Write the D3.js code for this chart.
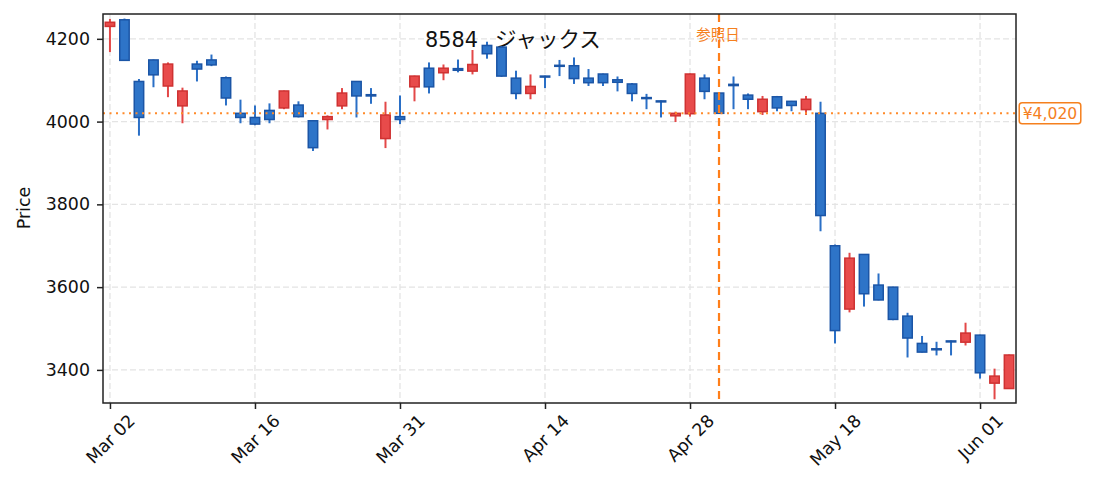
<!DOCTYPE html>
<html>
<head>
<meta charset="utf-8">
<script src="https://cdn.jsdelivr.net/npm/d3@7"></script>
<style>
  body { margin: 0; background: #fff; }
  text { font-family: "DejaVu Sans", sans-serif; }
  .jp { font-family: "Noto Sans CJK JP", sans-serif; }
  .grid line { stroke: #e4e4e4; stroke-dasharray: 6 3; stroke-width: 1.3; }
  .axis path, .axis line { stroke: #222; stroke-width: 1.5; }
  .axis text { font-size: 17.4px; fill: #111; }
</style>
</head>
<body>
<div id="chart"></div>
<script>
const dates = [
  '2020-03-02', '2020-03-03', '2020-03-04', '2020-03-05', '2020-03-06', '2020-03-09', '2020-03-10',
  '2020-03-11', '2020-03-12', '2020-03-13', '2020-03-16', '2020-03-17', '2020-03-18', '2020-03-19',
  '2020-03-23', '2020-03-24', '2020-03-25', '2020-03-26', '2020-03-27', '2020-03-30', '2020-03-31',
  '2020-04-01', '2020-04-02', '2020-04-03', '2020-04-06', '2020-04-07', '2020-04-08', '2020-04-09',
  '2020-04-10', '2020-04-13', '2020-04-14', '2020-04-15', '2020-04-16', '2020-04-17', '2020-04-20',
  '2020-04-21', '2020-04-22', '2020-04-23', '2020-04-24', '2020-04-27', '2020-04-28', '2020-04-30',
  '2020-05-01', '2020-05-07', '2020-05-08', '2020-05-11', '2020-05-12', '2020-05-13', '2020-05-14',
  '2020-05-15', '2020-05-18', '2020-05-19', '2020-05-20', '2020-05-21', '2020-05-22', '2020-05-25',
  '2020-05-26', '2020-05-27', '2020-05-28', '2020-05-29', '2020-06-01', '2020-06-02', '2020-06-03',
]
const open = [
  4230, 4246, 4097, 4149, 4086, 4038, 4139, 4149, 4106, 4020, 4010, 4027, 4033, 4040, 4002, 4005,
  4038, 4097, 4065, 3959, 4012, 4084, 4129, 4118, 4128, 4122, 4184, 4180, 4105, 4068, 4110, 4136,
  4135, 4105, 4115, 4101, 4091, 4058, 4050, 4014, 4019, 4105, 4069, 4090, 4064, 4024, 4060, 4049,
  4029, 4020, 3700, 3547, 3679, 3605, 3600, 3530, 3464, 3451, 3470, 3467, 3484, 3368, 3355,
]
const high = [
  4248, 4249, 4103, 4150, 4143, 4082, 4147, 4162, 4109, 4053, 4039, 4044, 4075, 4049, 4003, 4015,
  4081, 4098, 4081, 4048, 4063, 4111, 4143, 4138, 4150, 4173, 4193, 4182, 4123, 4114, 4111, 4149,
  4155, 4127, 4116, 4109, 4093, 4067, 4051, 4024, 4116, 4114, 4070, 4109, 4068, 4062, 4062, 4050,
  4062, 4048, 3703, 3683, 3680, 3633, 3601, 3538, 3482, 3468, 3471, 3514, 3485, 3403, 3437,
]
const low = [
  4168, 4147, 3966, 4083, 4059, 3996, 4097, 4134, 4039, 3996, 3991, 3996, 4030, 4010, 3929, 3981,
  4030, 4010, 4043, 3936, 3994, 4049, 4068, 4100, 4119, 4114, 4152, 4108, 4054, 4054, 4081, 4110,
  4091, 4086, 4086, 4073, 4049, 4030, 4010, 3999, 4012, 4054, 4019, 4030, 4030, 4016, 4025, 4025,
  4016, 3735, 3464, 3539, 3553, 3568, 3520, 3430, 3442, 3435, 3435, 3459, 3379, 3329, 3354,
]
const close = [
  4240, 4148, 4010, 4113, 4139, 4074, 4127, 4137, 4057, 4010, 3994, 4005, 4074, 4012, 3937, 4012,
  4069, 4062, 4062, 4016, 4005, 4110, 4084, 4129, 4124, 4138, 4164, 4110, 4068, 4085, 4108, 4134,
  4104, 4094, 4094, 4095, 4068, 4056, 4048, 4020, 4115, 4073, 4020, 4087, 4054, 4054, 4033, 4039,
  4054, 3773, 3495, 3670, 3584, 3569, 3522, 3477, 3443, 3449, 3468, 3489, 3393, 3385, 3436,
]
const yTicks = [3400, 3600, 3800, 4000, 4200]
const xTickIdx = [0, 10, 20, 30, 40, 50, 60]
const refIndex = 42
const refPrice = 4020
const titleCode = '8584'
const titleName = 'ジャックス'

const margin = { top: 14, right: 77, bottom: 88, left: 103 }
const width = 1093 - margin.left - margin.right
const height = 491 - margin.top - margin.bottom

const parse = d3.timeParse('%Y-%m-%d')
const fmt = d3.timeFormat('%b %d')
const data = dates.map((d, i) => ({
  i,
  date: parse(d),
  o: open[i],
  h: high[i],
  l: low[i],
  c: close[i],
}))

const svg = d3
  .select('#chart')
  .append('svg')
  .attr('width', 1093)
  .attr('height', 491)
  .append('g')
  .attr('transform', `translate(${margin.left}, ${margin.top})`)

const x = d3.scaleLinear().domain([-0.48, data.length - 0.52]).range([0, width])
const y = d3.scaleLinear().domain([3320, 4260]).range([height, 0])
const bodyW = (x(1) - x(0)) * 0.65

// grid
const grid = svg.append('g').attr('class', 'grid')
grid
  .selectAll('line.h')
  .data(yTicks)
  .join('line')
  .attr('class', 'h')
  .attr('x1', 0)
  .attr('x2', width)
  .attr('y1', (d) => y(d))
  .attr('y2', (d) => y(d))
grid
  .selectAll('line.v')
  .data(xTickIdx)
  .join('line')
  .attr('class', 'v')
  .attr('y1', 0)
  .attr('y2', height)
  .attr('x1', (d) => x(d))
  .attr('x2', (d) => x(d))

// title inside the plot
const title = svg
  .append('text')
  .attr('x', 425 - margin.left)
  .attr('y', 47 - margin.top)
  .style('font-size', '20.8px')
  .style('fill', '#111')
title.append('tspan').text(titleCode)
title
  .append('tspan')
  .attr('class', 'jp')
  .attr('x', 495 - margin.left)
  .style('font-size', '21.5px')
  .text(titleName)

// candles
const up = (d) => d.c >= d.o
const candles = svg.append('g').selectAll('g').data(data).join('g')
candles
  .append('line')
  .attr('x1', (d) => x(d.i))
  .attr('x2', (d) => x(d.i))
  .attr('y1', (d) => y(d.h))
  .attr('y2', (d) => y(d.l))
  .attr('stroke', (d) => (up(d) ? '#e34848' : '#2a6fc6'))
  .attr('stroke-width', 2)
candles
  .append('rect')
  .attr('x', (d) => x(d.i) - bodyW / 2)
  .attr('width', bodyW)
  .attr('y', (d) => y(Math.max(d.o, d.c)))
  .attr('height', (d) => Math.max(1, Math.abs(y(d.o) - y(d.c))))
  .attr('fill', (d) => (up(d) ? '#e84b4b' : '#2e74c8'))
  .attr('stroke', (d) => (up(d) ? '#cf3232' : '#1b55a6'))
  .attr('stroke-width', 1.5)

// reference lines
svg
  .append('line')
  .attr('x1', 0)
  .attr('x2', width)
  .attr('y1', y(refPrice))
  .attr('y2', y(refPrice))
  .attr('stroke', '#ff8a2a')
  .attr('stroke-width', 2)
  .attr('stroke-dasharray', '2 4.5')
svg
  .append('line')
  .attr('x1', x(refIndex))
  .attr('x2', x(refIndex))
  .attr('y1', 0)
  .attr('y2', height)
  .attr('stroke', '#ff7f1a')
  .attr('stroke-width', 2.2)
  .attr('stroke-dasharray', '8 5')
svg
  .append('text')
  .attr('class', 'jp')
  .attr('x', x(refIndex) - 1)
  .attr('y', 40 - margin.top)
  .attr('text-anchor', 'middle')
  .style('font-size', '14.5px')
  .style('fill', '#f5801e')
  .text('参照日')

// axes
svg
  .append('g')
  .attr('class', 'axis')
  .call(d3.axisLeft(y).tickValues(yTicks).tickSize(6).tickPadding(7).tickFormat(d3.format('d')))
  .call((g) => g.select('.domain').remove())
const xAxis = svg
  .append('g')
  .attr('class', 'axis')
  .attr('transform', `translate(0, ${height})`)
  .call(
    d3
      .axisBottom(x)
      .tickValues(xTickIdx)
      .tickSize(6)
      .tickFormat((i) => fmt(data[i].date))
  )
xAxis.select('.domain').remove()
// rotated labels, centred on the tick like matplotlib's default
xAxis.selectAll('.tick text').each(function () {
  const t = d3.select(this)
  const len = this.getComputedTextLength()
  const off = 10 + ((len + 13) * Math.SQRT1_2) / 2
  t.attr('text-anchor', 'middle')
    .attr('y', 0)
    .attr('dy', '0.35em')
    .attr('transform', `translate(0, ${off}) rotate(-45)`)
})

// frame
svg
  .append('rect')
  .attr('width', width)
  .attr('height', height)
  .attr('fill', 'none')
  .attr('stroke', '#222')
  .attr('stroke-width', 1.5)

// price label on the right
const lbl = svg.append('g').attr('transform', `translate(${width + 2}, ${y(refPrice)})`)
const lblText = lbl
  .append('text')
  .attr('x', 32)
  .attr('y', 0)
  .attr('dy', '0.35em')
  .attr('text-anchor', 'middle')
  .style('font-size', '15.6px')
  .style('fill', '#f5801e')
  .text('¥' + d3.format(',')(refPrice))
const bb = lblText.node().getBBox()
lbl
  .insert('rect', 'text')
  .attr('x', bb.x - 3.5)
  .attr('y', -10.5)
  .attr('width', bb.width + 7)
  .attr('height', 21)
  .attr('rx', 3)
  .attr('fill', '#fff')
  .attr('stroke', '#f5801e')
  .attr('stroke-width', 1.5)

// y label
svg
  .append('text')
  .attr('transform', `translate(${24 - margin.left}, ${208 - margin.top}) rotate(-90)`)
  .attr('text-anchor', 'middle')
  .attr('dy', '0.35em')
  .style('font-size', '17.4px')
  .style('fill', '#111')
  .text('Price')
</script>
</body>
</html>
